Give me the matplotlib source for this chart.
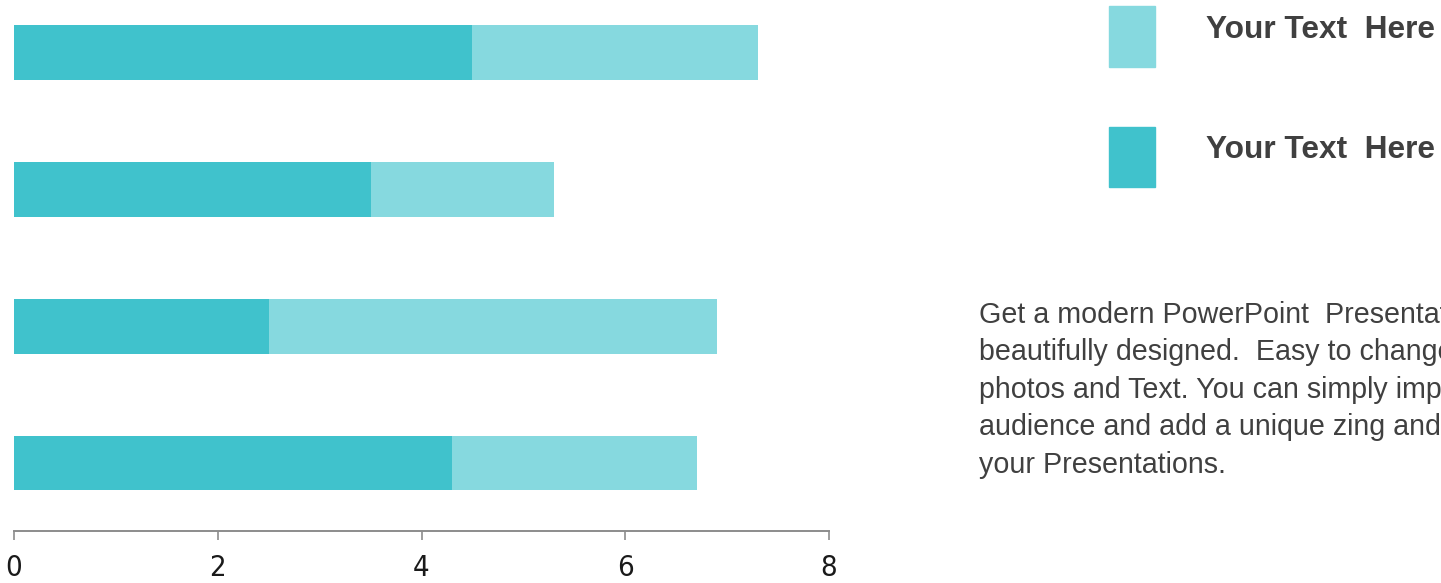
import matplotlib
matplotlib.use("Agg")
import matplotlib.pyplot as plt
from matplotlib.patches import Rectangle

# dados das barras (de baixo para cima)
categorias = ["Cat 1", "Cat 2", "Cat 3", "Cat 4"]
serie_escura = [4.3, 2.5, 3.5, 4.5]
serie_clara = [2.4, 4.4, 1.8, 2.8]
ticks_x = [0, 2, 4, 6, 8]
legenda = ["Your Text  Here", "Your Text  Here"]
paragrafo = ("Get a modern PowerPoint  Presentation that is\n"
             "beautifully designed.  Easy to change colors,\n"
             "photos and Text. You can simply impress your\n"
             "audience and add a unique zing and appeal to\n"
             "your Presentations.")

cor_escura = "#40C2CC"
cor_clara = "#86D9DF"

fig = plt.figure(figsize=(14.41, 5.83), dpi=100)
ax = fig.add_axes([14 / 1441, 52 / 583, 815 / 1441, 531 / 583])

pos = list(range(len(categorias)))
ax.barh(pos, serie_escura, height=0.4, color=cor_escura)
ax.barh(pos, serie_clara, left=serie_escura, height=0.4, color=cor_clara)

ax.set_xlim(0, 8)
ax.set_ylim(-0.497, 3.384)
ax.set_xticks(ticks_x)
ax.set_xticklabels([str(t) for t in ticks_x], family="DejaVu Sans",
                   fontstretch="condensed", fontsize=21, color="#1a1a1a")
ax.set_yticks([])
for lado in ["top", "right", "left"]:
    ax.spines[lado].set_visible(False)
ax.spines["bottom"].set_color("#8c8c8c")
ax.spines["bottom"].set_linewidth(1.4)
ax.tick_params(axis="x", length=6.5, width=1.2, color="#8c8c8c", pad=10)

# legenda manual
fig.patches.append(Rectangle((1109 / 1441, 1 - 67 / 583), 46 / 1441, 61 / 583,
                             transform=fig.transFigure, color=cor_clara))
fig.patches.append(Rectangle((1109 / 1441, 1 - 187 / 583), 46 / 1441, 60 / 583,
                             transform=fig.transFigure, color=cor_escura))
fig.text(1206 / 1441, 1 - 30 / 583, legenda[0], fontsize=22.8, fontweight="bold",
         color="#404040", family="Liberation Sans", va="center")
fig.text(1206 / 1441, 1 - 150 / 583, legenda[1], fontsize=22.8, fontweight="bold",
         color="#404040", family="Liberation Sans", va="center")

fig.text(979 / 1441, 1 - 301 / 583, paragrafo, fontsize=20.6, color="#404040",
         family="Liberation Sans", va="top", linespacing=1.43)

fig.savefig("out.png", dpi=100)
